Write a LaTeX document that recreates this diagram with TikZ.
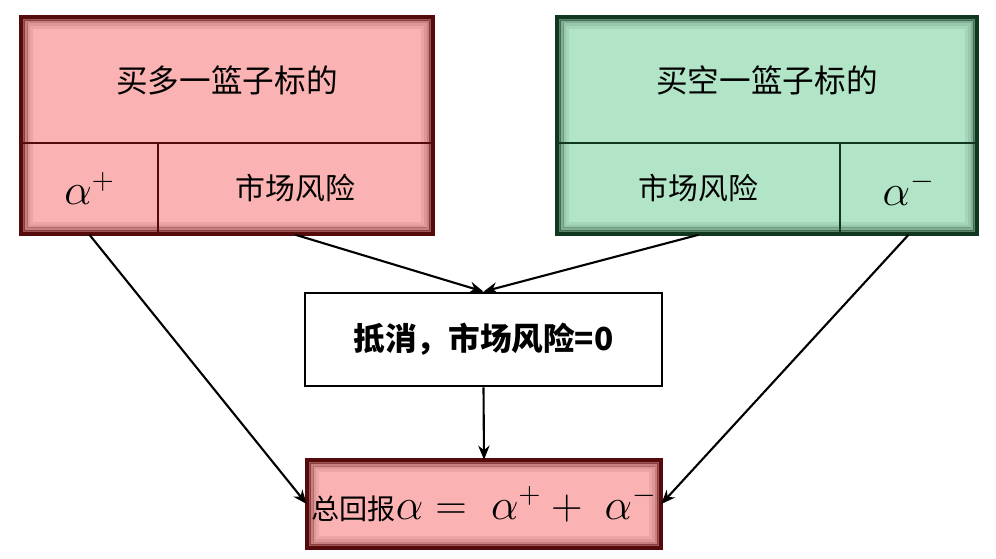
\documentclass[tikz,border=0pt]{standalone}
\usepackage{fontspec}
\setmainfont{Noto Sans CJK SC}
\usetikzlibrary{arrows.meta}
\definecolor{pinkfill}{RGB}{250,178,178}
\definecolor{greenfill}{RGB}{178,228,200}
\definecolor{redborder}{RGB}{85,10,12}
\definecolor{greenborder}{RGB}{18,55,32}
\newcommand\glowbox[2]{%
  \draw[#2, opacity=.08, line width=1.8pt] ([shift={(6pt,-6pt)}]#1.north west) rectangle ([shift={(-6pt,6pt)}]#1.south east);
  \draw[#2, opacity=.16, line width=1.8pt] ([shift={(4.5pt,-4.5pt)}]#1.north west) rectangle ([shift={(-4.5pt,4.5pt)}]#1.south east);
  \draw[#2, opacity=.3, line width=1.8pt] ([shift={(3pt,-3pt)}]#1.north west) rectangle ([shift={(-3pt,3pt)}]#1.south east);
  \draw[#2, opacity=.55, line width=1.8pt] ([shift={(1.6pt,-1.6pt)}]#1.north west) rectangle ([shift={(-1.6pt,1.6pt)}]#1.south east);
  \draw[#2, line width=2.4pt] (#1.north west) rectangle (#1.south east);}
\begin{document}
\begin{tikzpicture}[
  cell/.style={draw, line width=0.9pt, inner sep=0pt, font=\fontsize{17}{17}\selectfont},
  titletext/.style={font=\fontsize{18}{18}\selectfont},
  arr/.style={line width=1.2pt, -{Stealth[length=8pt,width=6.5pt]}},
  alph/.style={font=\fontsize{26}{26}\selectfont}
]
\useasboundingbox (0,0) rectangle (19.92,-11.18);
% left box
\node[fill=pinkfill, minimum width=8.24cm, minimum height=4.34cm, inner sep=0pt] (L) at (4.54,-2.51) {};
\node[cell, draw=redborder, minimum width=8.24cm, minimum height=2.52cm, titletext] (Lt) at (4.54,-1.60) {买多一篮子标的};
\node[cell, draw=redborder, minimum width=2.74cm, minimum height=1.82cm, alph] (La) at (1.79,-3.77) {$\alpha^{+}$};
\node[cell, draw=redborder, minimum width=5.50cm, minimum height=1.82cm] (Lm) at (5.91,-3.77) {市场风险};
\glowbox{L}{redborder}
% right box
\node[fill=greenfill, minimum width=8.40cm, minimum height=4.34cm, inner sep=0pt] (R) at (15.34,-2.51) {};
\node[cell, draw=greenborder, minimum width=8.40cm, minimum height=2.52cm, titletext] (Rt) at (15.34,-1.60) {买空一篮子标的};
\node[cell, draw=greenborder, minimum width=5.66cm, minimum height=1.82cm] (Rm) at (13.97,-3.77) {市场风险};
\node[cell, draw=greenborder, minimum width=2.74cm, minimum height=1.82cm, alph] (Ra) at (18.17,-3.77) {$\alpha^{-}$};
\glowbox{R}{greenborder}
% middle box
\node[draw=black, line width=1.6pt, fill=white, minimum width=7.14cm, minimum height=1.86cm, font=\fontsize{18}{18}\selectfont\bfseries] (M) at (9.67,-6.79) {抵消，市场风险=0};
% bottom box
\node[fill=pinkfill, minimum width=7.08cm, minimum height=1.76cm, inner sep=0pt, font=\fontsize{16}{16}\selectfont] (B) at (9.68,-10.08) {总回报{\fontsize{24}{24}\selectfont$\alpha = \;\alpha^{+} + \;\alpha^{-}$}};
\glowbox{B}{redborder}
% arrows
\draw[arr] (La.south) -- (B.west);
\draw[arr] (Lm.south) -- (M.north);
\draw[arr] (Rm.south) -- (M.north);
\draw[arr] (Ra.south) -- (B.east);
\draw[arr] (M.south) -- (B.north);
\end{tikzpicture}
\end{document}
